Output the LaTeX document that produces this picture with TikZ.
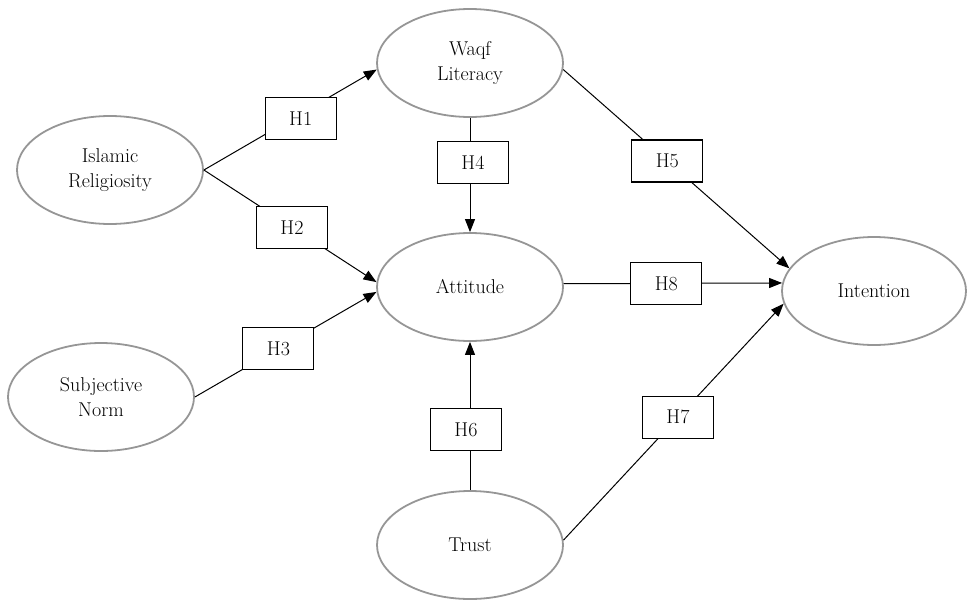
\documentclass[tikz,border=0pt]{standalone}
\usetikzlibrary{shapes.geometric,arrows.meta}
\definecolor{ellgray}{RGB}{150,150,150}
\begin{document}
\begin{tikzpicture}[x=1pt,y=-1pt,
  latent/.style={ellipse, draw=ellgray, line width=1.8pt, minimum width=186pt, minimum height=108pt, inner sep=0pt, align=center, font=\fontsize{20}{25}\selectfont},
  hbox/.style={draw=black, line width=1.1pt, fill=white, minimum width=71pt, minimum height=42pt, inner sep=0pt, font=\fontsize{20}{25}\selectfont},
  conn/.style={line width=1pt},
  arr/.style={conn, -{Triangle[length=13pt,width=10pt]}}
]
\useasboundingbox (0,0) rectangle (967,600);
\node[latent] (WL) at (470,63) {Waqf\\Literacy};
\node[latent] (IR) at (110,170) {Islamic\\Religiosity};
\node[latent] (ATT) at (470,287) {Attitude};
\node[latent] (SN) at (101,397) {Subjective\\Norm};
\node[latent, minimum width=184pt] (INT) at (874,291) {Intention};
\node[latent] (TR) at (470,545) {Trust};

\draw[arr] (IR.east) -- node[hbox,pos=0.56,yshift=-5pt] (h1) {H1} (WL.184);
\draw[arr] (IR.east) -- node[hbox,pos=0.51] (h2) {H2} (ATT.177);
\draw[arr] (SN.east) -- node[hbox,pos=0.46] (h3) {H3} (ATT.183);
\draw[arr] (WL.south) -- node[hbox,pos=0.39,xshift=3pt] (h4) {H4} (ATT.north);
\draw[arr] (WL.-4) -- node[hbox,pos=0.46] (h5) {H5} (INT.165);
\draw[arr] (ATT.2) -- node[hbox,pos=0.47] (h8) {H8} (INT.175);
\draw[arr] (TR.north) -- node[hbox,pos=0.41,xshift=-4pt] (h6) {H6} (ATT.south);
\draw[arr] (TR.3) -- node[hbox,pos=0.52] (h7) {H7} (INT.188);
\end{tikzpicture}
\end{document}
